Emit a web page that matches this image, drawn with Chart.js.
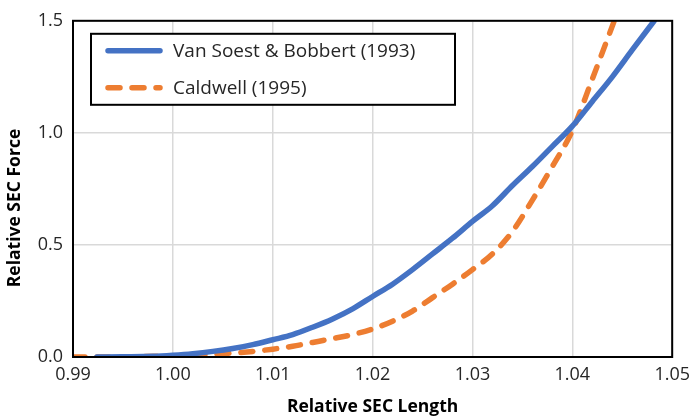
<!DOCTYPE html>
<html>
<head>
<meta charset="utf-8">
<script src="https://cdn.jsdelivr.net/npm/chart.js@4/dist/chart.umd.min.js"></script>
<style>
  html, body { margin: 0; padding: 0; background: #fff; }
  #wrap { position: relative; width: 697px; height: 418px; }
</style>
</head>
<body>
<div id="wrap"><canvas id="c" width="697" height="418"></canvas></div>
<script>
// ---- Data ----
const seriesNames = ['Van Soest & Bobbert (1993)', 'Caldwell (1995)'];

const vanSoestX = [0.9924, 0.995, 0.998, 1.000, 1.002, 1.004, 1.006, 1.008, 1.010, 1.012, 1.014, 1.016, 1.018, 1.020,
                   1.022, 1.024, 1.026, 1.028, 1.030, 1.032, 1.034, 1.036, 1.038, 1.040, 1.042, 1.044, 1.046, 1.0482];
const vanSoestY = [0.000, 0.001, 0.003, 0.008, 0.015, 0.025, 0.038, 0.055, 0.077, 0.100, 0.133, 0.170, 0.215, 0.270,
                   0.325, 0.390, 0.460, 0.530, 0.605, 0.675, 0.765, 0.850, 0.940, 1.030, 1.140, 1.250, 1.370, 1.500];

const caldwellX = [0.990, 0.995, 1.000, 1.004, 1.008, 1.010, 1.012, 1.014, 1.016, 1.018, 1.020, 1.022,
                   1.024, 1.026, 1.028, 1.030, 1.032, 1.034, 1.036, 1.038, 1.040, 1.042, 1.0442];
const caldwellY = [0.000, 0.001, 0.005, 0.012, 0.025, 0.035, 0.048, 0.065, 0.082, 0.100, 0.125, 0.160,
                   0.205, 0.265, 0.325, 0.390, 0.460, 0.560, 0.700, 0.850, 1.010, 1.240, 1.500];

const xTickMin = 0.99, xTickMax = 1.05, xTickStep = 0.01;
const yTickMin = 0.0,  yTickMax = 1.5,  yTickStep = 0.5;
const xTitle = 'Relative SEC Length';
const yTitle = 'Relative SEC Force';

// ---- Styling ----
const BLUE = '#4472C4';
const ORANGE = '#ED7D31';
const FONT = "'Open Sans', 'DejaVu Sans', sans-serif";
const ORANGE_DASH = [12, 12];

const toPoints = (xs, ys) => xs.map((x, i) => ({ x: x, y: ys[i] }));

const framePlugin = {
  id: 'frame',
  afterDraw(chart) {
    const { ctx, chartArea: a } = chart;
    ctx.save();
    ctx.strokeStyle = '#000';
    ctx.lineWidth = 2;
    ctx.strokeRect(a.left, a.top, a.right - a.left, a.bottom - a.top);
    ctx.restore();
  }
};

// y-axis title, placed a little below the plot centre as in the reference
const yTitlePlugin = {
  id: 'yTitleText',
  afterDraw(chart) {
    const { ctx, chartArea: a } = chart;
    ctx.save();
    ctx.translate(15, a.bottom - 149);
    ctx.rotate(-Math.PI / 2);
    ctx.fillStyle = '#000';
    ctx.font = "bold 17.5px " + FONT;
    ctx.textAlign = 'center';
    ctx.textBaseline = 'middle';
    ctx.fillText(yTitle, 0, 0);
    ctx.restore();
  }
};

const legendBoxPlugin = {
  id: 'legendBox',
  afterDraw(chart) {
    const { ctx, chartArea: a } = chart;
    const bx = a.left + 18, by = a.top + 13, bw = 364, bh = 71;
    ctx.save();
    ctx.fillStyle = '#fff';
    ctx.fillRect(bx, by, bw, bh);
    ctx.strokeStyle = '#000';
    ctx.lineWidth = 2;
    ctx.strokeRect(bx, by, bw, bh);
    const rows = [by + 17, by + 54];
    chart.data.datasets.forEach((ds, i) => {
      const y = rows[i];
      ctx.beginPath();
      ctx.strokeStyle = ds.borderColor;
      ctx.lineWidth = 5.5;
      ctx.lineCap = 'round';
      ctx.setLineDash(ds.borderDash || []);
      ctx.moveTo(bx + 17, y);
      ctx.lineTo(bx + 69, y);
      ctx.stroke();
      ctx.setLineDash([]);
      ctx.fillStyle = '#262626';
      ctx.font = "19px " + FONT;
      ctx.textBaseline = 'middle';
      ctx.textAlign = 'left';
      ctx.fillText(ds.label, bx + 82, y + 1);
    });
    ctx.restore();
  }
};

new Chart(document.getElementById('c'), {
  type: 'line',
  data: {
    datasets: [
      {
        label: seriesNames[0],
        data: toPoints(vanSoestX, vanSoestY),
        borderColor: BLUE,
        backgroundColor: BLUE,
        borderWidth: 5.5,
        pointRadius: 0,
        cubicInterpolationMode: 'monotone',
        borderCapStyle: 'round',
        borderJoinStyle: 'round',
        fill: false
      },
      {
        label: seriesNames[1],
        data: toPoints(caldwellX, caldwellY),
        borderColor: ORANGE,
        backgroundColor: ORANGE,
        borderWidth: 5.5,
        borderDash: ORANGE_DASH,
        pointRadius: 0,
        cubicInterpolationMode: 'monotone',
        borderCapStyle: 'round',
        borderJoinStyle: 'round',
        fill: false
      }
    ]
  },
  options: {
    responsive: false,
    animation: false,
    devicePixelRatio: 1,
    layout: { padding: { top: 20, right: 18, bottom: 0, left: 0 } },
    plugins: {
      legend: { display: false },
      tooltip: { enabled: false }
    },
    scales: {
      x: {
        type: 'linear',
        min: xTickMin,
        max: xTickMax,
        afterFit(scale) { scale.height = 61; },
        ticks: {
          stepSize: xTickStep,
          padding: 7,
          color: '#262626',
          font: { family: FONT, size: 18 },
          maxRotation: 0,
          callback: (v) => Number(v).toFixed(2)
        },
        grid: { color: '#d9d9d9', lineWidth: 1.5, drawTicks: false },
        border: { display: true, color: '#000', width: 2 },
        title: {
          display: true,
          text: xTitle,
          color: '#000',
          font: { family: FONT, size: 17.5, weight: 'bold' },
          padding: { top: 0, bottom: 0.5 }
        }
      },
      y: {
        type: 'linear',
        min: yTickMin,
        max: yTickMax,
        afterFit(scale) { scale.width = 73; },
        ticks: {
          stepSize: yTickStep,
          padding: 10,
          color: '#262626',
          font: { family: FONT, size: 18 },
          callback: (v) => Number(v).toFixed(1)
        },
        grid: { color: '#d9d9d9', lineWidth: 1.5, drawTicks: false },
        border: { display: true, color: '#000', width: 2 },
        title: { display: false, text: yTitle }
      }
    }
  },
  plugins: [framePlugin, yTitlePlugin, legendBoxPlugin]
});
</script>
</body>
</html>
